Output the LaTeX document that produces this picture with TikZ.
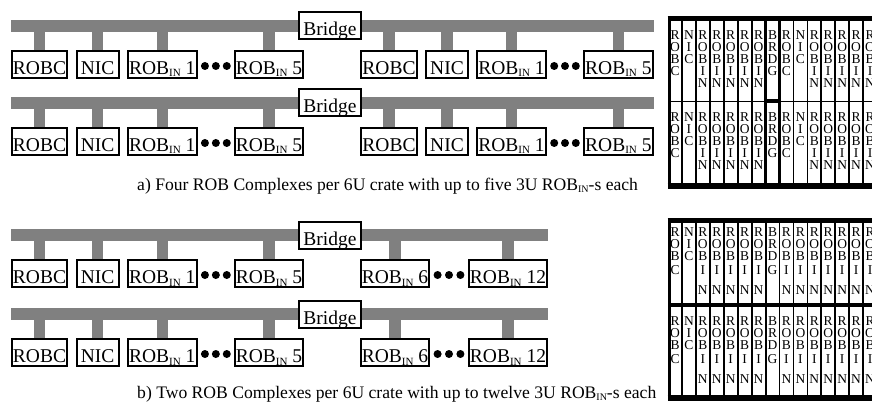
\documentclass[tikz,border=0pt]{standalone}
\usepackage{fontspec}
\setmainfont{Liberation Serif}
\usetikzlibrary{positioning, calc, backgrounds}

\newcommand{\robin}[1]{ROB\raisebox{-2.5pt}{\fontsize{11}{11}\selectfont IN}\ #1}
% slot labels of the crates, one letter per line
\newcommand{\cRIN}{R\\O\\B\\I\\N}
\newcommand{\cROBC}{R\\O\\B\\C}
\newcommand{\cNIC}{N\\I\\C}
\newcommand{\cBDG}{B\\R\\D\\G}
\newcommand{\cRINb}{R\\O\\B\\[2.5pt]I\\[7.5pt]N}
\newcommand{\cROBCb}{R\\O\\B\\[2.5pt]C}
\newcommand{\cBDGb}{B\\R\\D\\[2.5pt]G}

\tikzset{
  unitbox/.style={draw, line width=2pt, fill=white, minimum width=#1,
                  inner xsep=0.5pt, inner ysep=1.5pt, text height=22pt,
                  text depth=2pt, font=\fontsize{19.5}{21}\selectfont},
  unitbox/.default=42pt,
  bus/.style={draw=black!50, line width=11.5pt},
  dot/.style={fill=black},
  slotlbl/.style={anchor=north, align=center, inner sep=0pt,
                  font=\fontsize{13.5}{12}\selectfont},
  captxt/.style={anchor=base west, inner sep=0pt,
                 font=\fontsize{17.6}{20}\selectfont},
}

\begin{document}
\begin{tikzpicture}[x=1pt, y=-1pt]
  \useasboundingbox (0,0) rectangle (872,406);

  % a) two buses, two complexes each
  \foreach \r/\yb in {a1/25, a2/102} {
    \node[unitbox=62pt] (\r br) at (330,\yb+1) {Bridge};
    \node[unitbox=53.6pt] (\r robc) at (39.5,\yb+39.5) {ROBC};
    \node[unitbox, right=8pt of \r robc] (\r nic) {NIC};
    \node[unitbox=68.7pt, right=7.4pt of \r nic] (\r ra) {\robin{1}};
    \node[unitbox=68pt, right=36.4pt of \r ra] (\r rb) {\robin{5}};
    \node[unitbox=56pt] (\r robcx) at (389,\yb+39.5) {ROBC};
    \node[unitbox, right=7pt of \r robcx] (\r nicx) {NIC};
    \node[unitbox=69pt, right=7pt of \r nicx] (\r rax) {\robin{1}};
    \node[unitbox=68.7pt, right=36pt of \r rax] (\r rbx) {\robin{5}};
    \foreach \t in {0.2,0.5,0.8} {
      \fill[dot] ($(\r ra.east)!\t!(\r rb.west)+(0,1.5)$) circle (4);
      \fill[dot] ($(\r rax.east)!\t!(\r rbx.west)+(0,1.5)$) circle (4);
    }
    \begin{scope}[on background layer]
      \draw[bus] (\r robc.west |- \r br) -- (\r rbx.east |- \r br);
      \foreach \n in {robc,nic,ra,rb,robcx,nicx,rax,rbx}
        \draw[bus] (\r\n.north) -- (\r\n.north |- \r br);
    \end{scope}
  }
  \node[captxt] (capa) at (137,190) {a) Four ROB Complexes per 6U crate
    with up to five 3U ROB\raisebox{-2pt}{\fontsize{10}{10}\selectfont IN}-s each};

  % b) one complex per bus
  \foreach \r/\yb in {b1/234, b2/313} {
    \node[unitbox=62pt] (\r br) at (330,\yb+1) {Bridge};
    \node[unitbox=53.6pt] (\r robc) at (39.5,\yb+39.5) {ROBC};
    \node[unitbox, right=8pt of \r robc] (\r nic) {NIC};
    \node[unitbox=68.7pt, right=7.4pt of \r nic] (\r ra) {\robin{1}};
    \node[unitbox=68pt, right=36.4pt of \r ra] (\r rb) {\robin{5}};
    \node[unitbox=68pt] (\r rc) at (395,\yb+39.5) {\robin{6}};
    \node[unitbox=78pt, right=38pt of \r rc] (\r rd) {\robin{12}};
    \foreach \t in {0.2,0.5,0.8} {
      \fill[dot] ($(\r ra.east)!\t!(\r rb.west)+(0,1.5)$) circle (4);
      \fill[dot] ($(\r rc.east)!\t!(\r rd.west)+(0,1.5)$) circle (4);
    }
    \begin{scope}[on background layer]
      \draw[bus] (\r robc.west |- \r br) -- (\r rd.east |- \r br);
      \foreach \n in {robc,nic,ra,rb,rc,rd}
        \draw[bus] (\r\n.north) -- (\r\n.north |- \r br);
    \end{scope}
  }
  \node[captxt] (capb) at (137,398) {b) Two ROB Complexes per 6U crate
    with up to twelve 3U ROB\raisebox{-2pt}{\fontsize{10}{10}\selectfont IN}-s each};

  % crates, cut at the right edge
  \begin{scope}
    \clip (660,0) rectangle (872,406);
    % crate a
    \foreach \lbl [count=\k from 0] in {\cROBC,\cNIC,\cRIN,\cRIN,\cRIN,\cRIN,
        \cRIN,\cBDG,\cROBC,\cNIC,\cRIN,\cRIN,\cRIN,\cRIN,\cRIN} {
      \node[slotlbl] (cat\k) at (675+13.93*\k,30) {\lbl};
      \node[slotlbl] (cab\k) at (675+13.93*\k,112) {\lbl};
    }
    \foreach \k in {1,...,15}
      \draw[line width=1.8pt] (668.1+13.93*\k,19) -- ++(0,167);
    \draw[line width=2.8pt] (765.6,19) -- (765.6,186);
    \draw[line width=2.8pt] (779.5,19) -- (779.5,186);
    \draw[line width=3.5pt] (669.5,17) -- (669.5,189);
    \draw[line width=5pt] (667.5,19) -- (880,19);
    \draw[line width=1.6pt] (668,101.5) -- (880,101.5);
    \fill (764,99.5) rectangle (781,103.5);
    \draw[line width=6pt] (667.5,186) -- (880,186);
    % crate b
    \foreach \lbl [count=\k from 0] in {\cROBCb,\cNIC,\cRINb,\cRINb,\cRINb,
        \cRINb,\cRINb,\cBDGb,\cRINb,\cRINb,\cRINb,\cRINb,\cRINb,\cRINb,\cRINb} {
      \node[slotlbl] (cbt\k) at (675+13.93*\k,227) {\lbl};
      \node[slotlbl] (cbb\k) at (675+13.93*\k,316) {\lbl};
    }
    \foreach \k in {1,...,15}
      \draw[line width=1.8pt] (668.1+13.93*\k,220.5) -- (668.1+13.93*\k,398);
    \draw[line width=3.5pt] (669.5,218) -- (669.5,401);
    \draw[line width=5pt] (667.5,220.5) -- (880,220.5);
    \draw[line width=3.5pt] (668,305) -- (880,305);
    \draw[line width=6pt] (667.5,398) -- (880,398);
  \end{scope}
\end{tikzpicture}
\end{document}
